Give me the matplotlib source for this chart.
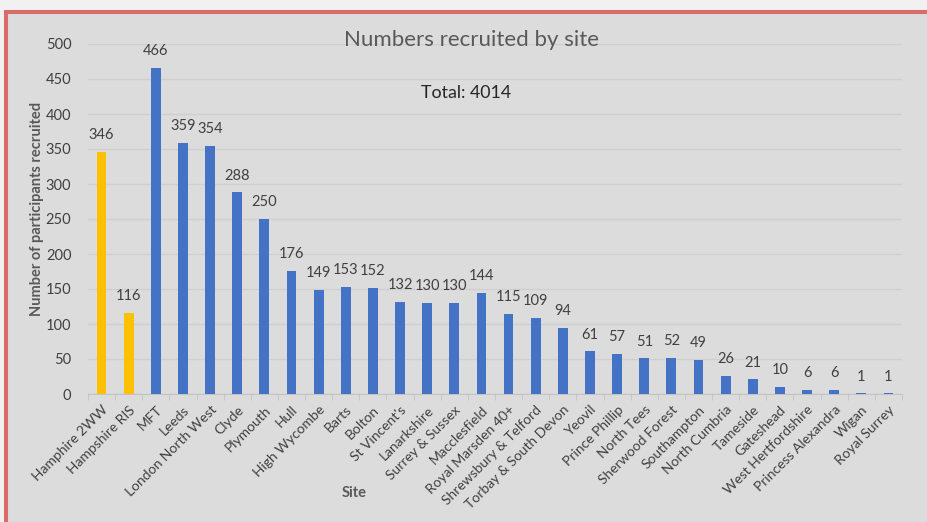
import matplotlib
matplotlib.use("Agg")
import matplotlib.pyplot as plt
from matplotlib.patches import Rectangle
import numpy as np

sites = ["Hamphire 2WW", "Hampshire RIS", "MFT", "Leeds", "London North West", "Clyde",
         "Plymouth", "Hull", "High Wycombe", "Barts", "Bolton", "St Vincent's", "Lanarkshire",
         "Surrey & Sussex", "Macclesfield", "Royal Marsden 40+", "Shrewsbury & Telford",
         "Torbay & South Devon", "Yeovil", "Prince Phillip", "North Tees", "Sherwood Forest",
         "Southampton", "North Cumbria", "Tameside", "Gateshead", "West Hertfordshire",
         "Princess Alexandra", "Wigan", "Royal Surrey"]
values = [346, 116, 466, 359, 354, 288, 250, 176, 149, 153, 152, 132, 130, 130, 144,
          115, 109, 94, 61, 57, 51, 52, 49, 26, 21, 10, 6, 6, 1, 1]
yticks = [0, 50, 100, 150, 200, 250, 300, 350, 400, 450, 500]
title = "Numbers recruited by site"
total_text = "Total: 4014"

plt.rcParams['font.family'] = ['Lato', 'DejaVu Sans']

W, H = 927, 522
fig = plt.figure(figsize=(W / 100, H / 100), dpi=100)
fig.patch.set_facecolor('#f1f1f1')

# frame
frame = Rectangle((6 / W, -0.2), 1.2, 1.2 - 12 / H,
                  transform=fig.transFigure, facecolor='#dcdcdc',
                  edgecolor='#d96b6b', linewidth=2.9, zorder=-10)
fig.patches.append(frame)

ax = fig.add_axes([88 / W, 1 - 394 / H, (902 - 88) / W, (394 - 44) / H])
ax.set_zorder(1)
ax.set_facecolor('none')
n = len(sites)
x = np.arange(n)
colors = ['#ffc000'] * 2 + ['#4472c4'] * (n - 2)
ax.bar(x, values, width=0.36, color=colors, zorder=3)
ax.set_xlim(-0.5, n - 0.5)
ax.set_ylim(0, 500)
ax.set_yticks(yticks)
ax.set_yticklabels([str(v) for v in yticks], fontsize=10.5, color='#404040')
ax.grid(axis='y', color='#cfcfcf', linewidth=1, zorder=0)
for s in ['top', 'right', 'left']:
    ax.spines[s].set_visible(False)
ax.spines['bottom'].set_color('#c4c4c4')
ax.tick_params(axis='y', length=0, pad=12)
ax.set_xticks(x)
ax.set_xticklabels(sites, rotation=45, ha='right', va='top', rotation_mode='anchor',
                   fontsize=10, color='#404040')
ax.tick_params(axis='x', which='major', length=0, pad=7)
ax.set_xticks(np.arange(n + 1) - 0.5, minor=True)
ax.tick_params(axis='x', which='minor', length=4, color='#c4c4c4')

for xi, v in zip(x, values):
    ax.annotate(str(v), (xi, v), xytext=(0, 7), textcoords='offset points',
                ha='center', va='bottom', fontsize=10.5, color='#404040')

fig.text(37 / W, 1 - 209 / H, "Number of participants recruited", rotation=90,
         ha='center', va='center', fontsize=10.5, color='#595959', fontweight='bold')
fig.text(354 / W, 1 - 493 / H, "Site", ha='center', va='center',
         fontsize=10.5, color='#595959', fontweight='bold')

fig.text(472 / W, 1 - 40 / H, title, ha='center', va='center', fontsize=16, color='#595959')
fig.text(466 / W, 1 - 93 / H, total_text, ha='center', va='center', fontsize=12.8, color='#262626')

fig.savefig("out.png", dpi=100, facecolor=fig.get_facecolor())
